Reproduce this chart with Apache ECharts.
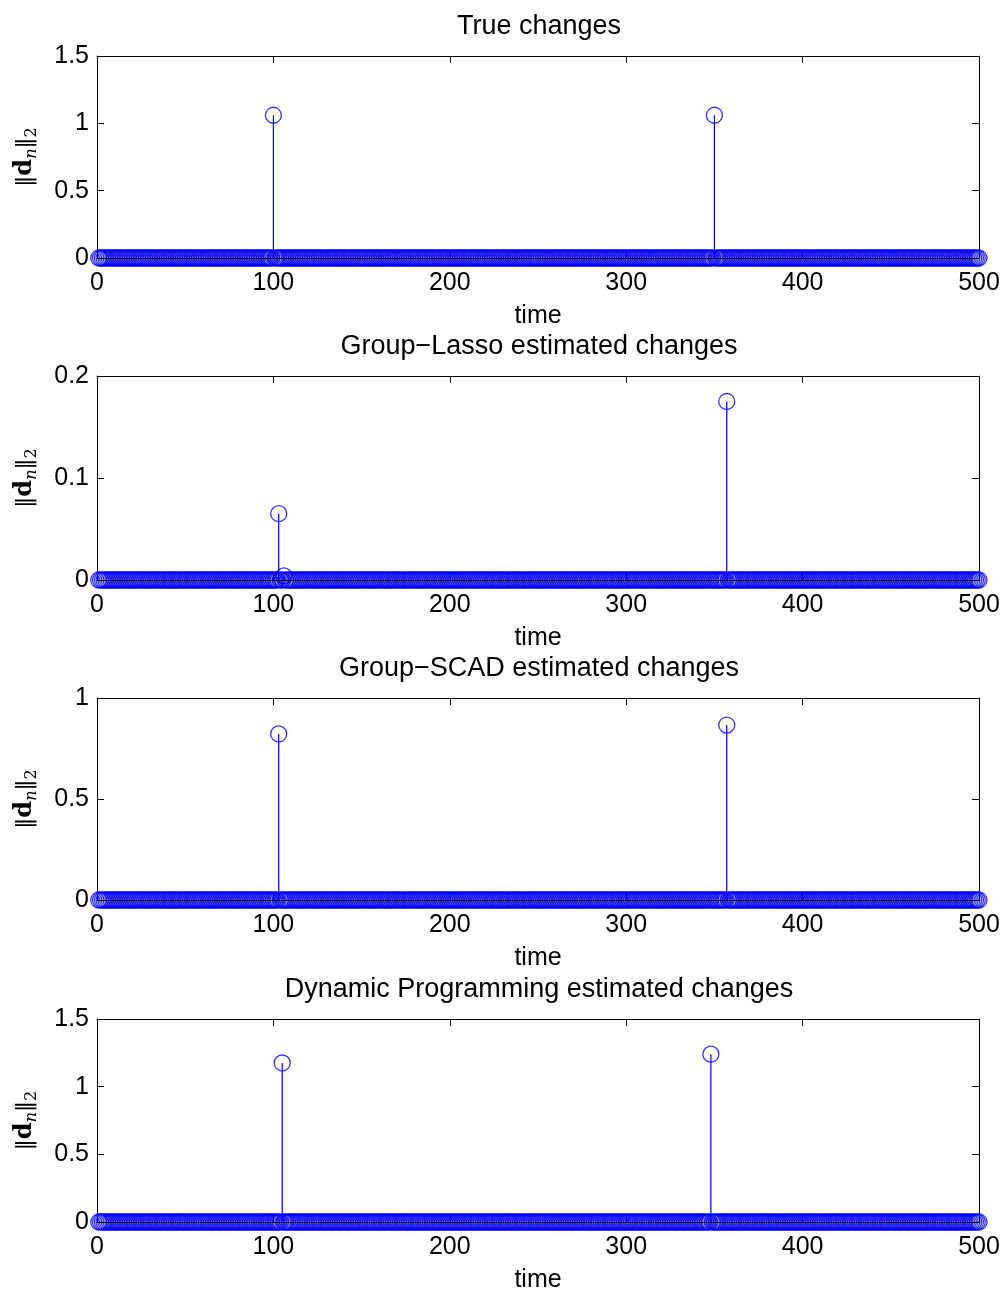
<!DOCTYPE html>
<html>
<head>
<meta charset="utf-8">
<script src="https://cdn.jsdelivr.net/npm/echarts@6/dist/echarts.min.js"></script>
<style>
  html, body { margin: 0; padding: 0; background: #fff; }
  #chart { width: 1003px; height: 1291px; }
</style>
</head>
<body>
<div id="chart"></div>
<script>
// time axis runs 1..500; every sample not listed below is zero
const N = 500;

const titles = [
  'True changes',
  'Group\u2212Lasso estimated changes',
  'Group\u2212SCAD estimated changes',
  'Dynamic Programming estimated changes'
];

// nonzero samples per panel
const trueIdx = [100, 350];
const trueVal = [1.06, 1.06];
const lassoIdx = [103, 106, 357];
const lassoVal = [0.065, 0.004, 0.175];
const scadIdx = [103, 357];
const scadVal = [0.822, 0.866];
const dpIdx = [105, 348];
const dpVal = [1.175, 1.24];

// y-axis ranges / ticks per panel
const yMax = [1.5, 0.2, 1, 1.5];
const yStep = [0.5, 0.1, 0.5, 0.5];

const panels = [
  [trueIdx, trueVal],
  [lassoIdx, lassoVal],
  [scadIdx, scadVal],
  [dpIdx, dpVal]
];

// grid boxes (px)
const H = 1291;
const gridTop = [56, 376, 698, 1019];
const gridBot = [258, 580, 900, 1222];

const FONT = 'Liberation Sans, Arial, Helvetica, sans-serif';
const BLUE = '#0000ff';

function fullSeries(idx, val) {
  const out = [];
  for (let t = 1; t <= N; t++) {
    const k = idx.indexOf(t);
    out.push([t, k >= 0 ? val[k] : 0]);
  }
  return out;
}

const option = {
  backgroundColor: '#fff',
  animation: false,
  title: [],
  grid: [],
  xAxis: [],
  yAxis: [],
  series: []
};

panels.forEach(([idx, val], i) => {
  option.title.push({
    text: titles[i],
    left: 539,
    textAlign: 'center',
    top: gridTop[i] - 43,
    padding: 0,
    textStyle: { fontFamily: FONT, fontSize: 27, fontWeight: 'normal', color: '#000' }
  });
  option.grid.push({
    left: 97, right: 24, top: gridTop[i], bottom: H - gridBot[i],
    outerBoundsMode: 'none', containLabel: false
  });

  const tick = { show: true, inside: true, length: 7, lineStyle: { color: '#000' } };
  const line = { show: true, onZero: false, lineStyle: { color: '#000', width: 1 } };

  // bottom / top x axes
  option.xAxis.push({
    type: 'value', gridIndex: i, min: 0, max: 500, interval: 100,
    position: 'bottom',
    axisLine: line, axisTick: tick, splitLine: { show: false },
    axisLabel: { color: '#000', fontFamily: FONT, fontSize: 25, margin: 13 },
    name: 'time', nameLocation: 'middle', nameGap: 46,
    nameTextStyle: { color: '#000', fontFamily: FONT, fontSize: 25 }
  });
  option.xAxis.push({
    type: 'value', gridIndex: i, min: 0, max: 500, interval: 100,
    position: 'top',
    axisLine: line, axisTick: tick, splitLine: { show: false },
    axisLabel: { show: false }
  });
  // left / right y axes
  option.yAxis.push({
    type: 'value', gridIndex: i, min: 0, max: yMax[i], interval: yStep[i],
    position: 'left',
    axisLine: line, axisTick: tick, splitLine: { show: false },
    axisLabel: { color: '#000', fontFamily: FONT, fontSize: 25, margin: 8 },
    name: '{a|\u2016}{b|d}{c|n}{a|\u2016}{d|2}',
    nameLocation: 'middle', nameRotate: 90, nameGap: 57,
    nameTextStyle: {
      color: '#000',
      rich: {
        a: { fontFamily: 'DejaVu Sans, sans-serif', fontSize: 22, color: '#000' },
        b: { fontFamily: 'DejaVu Serif, serif', fontSize: 24, fontWeight: 'bold', color: '#000' },
        c: { fontFamily: 'DejaVu Serif, serif', fontSize: 16, fontStyle: 'italic', color: '#000', padding: [14, 0, 0, 0] },
        d: { fontFamily: 'DejaVu Serif, serif', fontSize: 16, color: '#000', padding: [14, 0, 0, 0] }
      }
    }
  });
  option.yAxis.push({
    type: 'value', gridIndex: i, min: 0, max: yMax[i], interval: yStep[i],
    position: 'right',
    axisLine: line, axisTick: tick, splitLine: { show: false },
    axisLabel: { show: false }
  });

  const data = fullSeries(idx, val);
  const xa = i * 2, ya = i * 2;

  // stems
  option.series.push({
    type: 'custom',
    xAxisIndex: xa, yAxisIndex: ya,
    data: data.filter(d => d[1] !== 0),
    z: 3,
    renderItem: function (params, api) {
      const p0 = api.coord([api.value(0), 0]);
      const p1 = api.coord([api.value(0), api.value(1)]);
      return {
        type: 'line',
        shape: { x1: p0[0], y1: p0[1], x2: p1[0], y2: p1[1] },
        style: { stroke: BLUE, lineWidth: 1.2 }
      };
    }
  });
  // markers + baseline
  option.series.push({
    type: 'scatter',
    xAxisIndex: xa, yAxisIndex: ya,
    data: data,
    clip: false,
    symbol: 'circle',
    symbolSize: 16,
    itemStyle: { color: 'rgba(0,0,0,0)', borderColor: BLUE, borderWidth: 1.3 },
    z: 4,
    silent: true,
    markLine: {
      silent: true,
      symbol: 'none',
      label: { show: false },
      lineStyle: { color: '#000', width: 1.2, type: 'solid' },
      data: [{ yAxis: 0 }],
      z: 6
    }
  });
});

const chart = echarts.init(document.getElementById('chart'), null, { renderer: 'canvas' });
chart.setOption(option);
</script>
</body>
</html>
